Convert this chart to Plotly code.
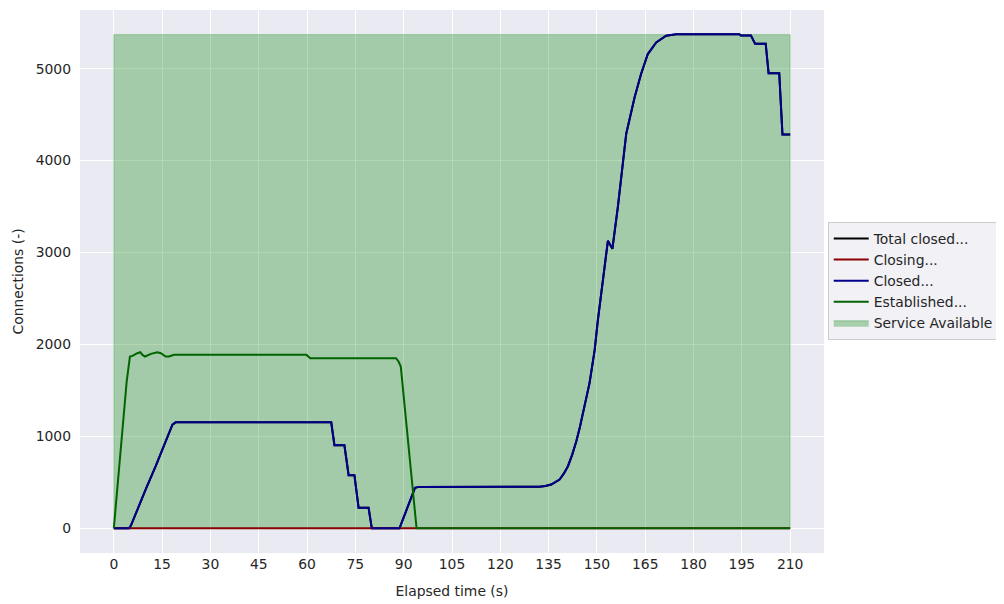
import plotly.graph_objects as go

# ---- data ----
x_ticks = [0, 15, 30, 45, 60, 75, 90, 105, 120, 135, 150, 165, 180, 195, 210]
y_ticks = [0, 1000, 2000, 3000, 4000, 5000]

established_t = [0, 4, 5, 5.8, 7.3, 8.2, 8.9, 9.7, 11.5, 13.5, 14.6, 16.1, 17.1, 18.7,
                 59.8, 61, 87.6, 88.4, 89.1, 94, 210]
established_v = [0, 1600, 1869, 1876, 1905, 1916, 1887, 1869, 1898, 1916, 1905, 1869, 1869, 1887,
                 1887, 1851, 1851, 1815, 1760, 0, 0]

closed_t = [0, 4.7, 5.3, 7.3, 8.9, 9.9, 13, 18.2, 19.2, 67.5, 68.5, 71.6, 72.9, 74.7, 76, 79.1,
            80.1, 88.7, 93.5, 94.8, 132.2, 134, 135.8, 137, 138.4, 139.7, 141, 142.3, 143.6,
            144.7, 145.7, 146.7, 147.7, 148.5, 149.3, 150.3,
            153.4, 154.8, 156.5, 159.1, 161.7, 163.7, 165.8, 168.4, 171.5, 174.6, 194.2, 194.7,
            197.8, 199.1, 202.4, 203.3, 206.6, 207.6, 210]
closed_v = [0, 0, 30, 206, 333, 423, 676, 1128, 1153, 1153, 904, 904, 578, 578, 224, 224,
            0, 0, 441, 451, 452, 460, 477, 500, 531, 595, 676, 800, 947,
            1100, 1255, 1415, 1580, 1760, 1941, 2267,
            3127, 3040, 3496, 4292, 4689, 4942, 5159, 5285, 5358, 5375, 5375, 5362,
            5362, 5272, 5272, 4950, 4950, 4285, 4285]

total_closed_t = list(closed_t)
total_closed_v = list(closed_v)

closing_t = [0, 210]
closing_v = [0, 0]

service_t = [0, 210]
service_level = [5370, 5370]

FONT = "DejaVu Sans"
TXT = "#262626"
FS = 13.9

fig = go.Figure()

# Service available shaded band (polygon built from the data arrays)
poly_x = [service_t[0]] + service_t + [service_t[-1], service_t[0]]
poly_y = [0] + service_level + [0, 0]
fig.add_trace(go.Scatter(
    x=poly_x, y=poly_y, mode="lines", fill="toself",
    fillcolor="rgba(0,128,0,0.3)", line=dict(color="rgba(0,128,0,0.3)", width=1),
    name="Service Available", legendrank=5, hoverinfo="skip"))

fig.add_trace(go.Scatter(x=total_closed_t, y=total_closed_v, mode="lines",
                         line=dict(color="black", width=2), name="Total closed...", legendrank=1))
fig.add_trace(go.Scatter(x=closing_t, y=closing_v, mode="lines",
                         line=dict(color="#8b0000", width=2), name="Closing...", legendrank=2))
fig.add_trace(go.Scatter(x=closed_t, y=closed_v, mode="lines",
                         line=dict(color="#00008b", width=2), name="Closed...", legendrank=3))
fig.add_trace(go.Scatter(x=established_t, y=established_v, mode="lines",
                         line=dict(color="#006400", width=2), name="Established...", legendrank=4))

# The page body adds an 8px offset, so the figure is sized/margined to compensate.
fig.update_layout(
    width=996, height=596,
    margin=dict(l=72, r=180, t=2, b=51),
    paper_bgcolor="white", plot_bgcolor="#eaeaf2",
    font=dict(family=FONT, size=FS, color=TXT),
    showlegend=True,
    legend=dict(x=1.005, xanchor="left", y=(545 - 214) / (545 - 2), yanchor="top",
                bgcolor="rgba(240,240,245,0.9)", bordercolor="#cccccc", borderwidth=1,
                font=dict(family=FONT, size=FS, color=TXT), itemwidth=35,
                tracegroupgap=0),
    xaxis=dict(range=[-10.5, 220.5], tickmode="array", tickvals=x_ticks,
               ticktext=[str(v) for v in x_ticks],
               showgrid=True, gridcolor="white", gridwidth=1, zeroline=False,
               showline=False, ticks="", ticklabelstandoff=1,
               tickfont=dict(family=FONT, size=FS, color=TXT),
               title=dict(text="Elapsed time (s)", standoff=15,
                          font=dict(family=FONT, size=FS, color=TXT)),
               automargin=False),
    yaxis=dict(range=[-268, 5638], tickmode="array", tickvals=y_ticks,
               ticktext=[str(v) for v in y_ticks],
               showgrid=True, gridcolor="white", gridwidth=1, zeroline=False,
               showline=False, ticks="", ticklabelstandoff=8,
               tickfont=dict(family=FONT, size=FS, color=TXT),
               title=dict(text="Connections (-)", standoff=8,
                          font=dict(family=FONT, size=FS, color=TXT)),
               automargin=False),
)

fig.write_html("out.html")
